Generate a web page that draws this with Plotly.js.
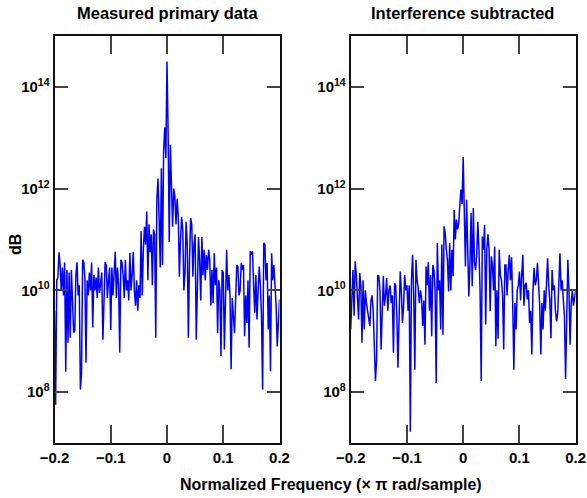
<!DOCTYPE html>
<html>
<head>
<meta charset="utf-8">
<script src="https://cdn.plot.ly/plotly-3.0.1.min.js"></script>
<style>html,body{margin:0;padding:0;background:#fff;}#chart{width:587px;height:498px;}</style>
</head>
<body>
<div id="chart"></div>
<script>
// Frequency grid (× π rad/sample)
const freqStart = -0.2;
const freqStep = 0.002;
const nPoints = 201;

// Power spectrum values as log10 exponents
const measuredPrimaryLog10 = [
  9.6, 7.75, 10.2, 10.25, 10.75, 10.5, 10.0, 10.45, 9.9, 10.55,
  8.4, 10.4, 8.97, 10.35, 9.07, 10.4, 9.8, 9.17, 9.2, 10.3,
  10.55, 9.9, 10.1, 8.05, 8.35, 10.6, 10.55, 10.25, 8.58, 10.2,
  9.9, 10.35, 10.0, 10.55, 9.27, 10.3, 10.0, 10.25, 9.85, 10.45,
  9.95, 10.2, 10.35, 9.03, 9.8, 10.55, 10.5, 9.85, 10.2, 10.45,
  9.22, 10.45, 9.9, 10.45, 10.76, 9.85, 10.45, 10.1, 8.78, 10.6,
  10.55, 10.3, 9.85, 10.6, 10.0, 10.2, 9.8, 10.74, 10.0, 10.3,
  10.76, 10.0, 9.7, 10.2, 9.6, 10.1, 9.85, 11.16, 9.9, 10.8,
  11.25, 10.9, 11.55, 10.2, 11.3, 10.75, 11.1, 10.1, 11.2, 11.1,
  9.07, 11.8, 12.2, 11.4, 10.45, 12.4, 10.5, 12.75, 13.2, 12.6,
  14.5, 13.1, 10.95, 12.86, 12.1, 11.25, 12.0, 11.85, 11.3, 11.8,
  11.45, 10.27, 11.0, 11.44, 11.2, 10.0, 10.35, 11.35, 10.9, 9.07,
  10.6, 11.42, 11.3, 10.27, 10.9, 11.1, 9.03, 10.5, 11.05, 10.6,
  9.8, 11.05, 10.3, 10.8, 10.2, 10.7, 10.4, 10.8, 10.6, 9.7,
  10.4, 9.75, 10.73, 10.1, 10.45, 9.16, 10.2, 10.0, 8.71, 10.4,
  10.35, 8.84, 10.1, 10.8, 10.0, 10.3, 9.9, 8.45, 9.85, 9.5,
  9.16, 9.8, 10.5, 10.47, 9.9, 10.0, 10.54, 10.4, 10.5, 9.1,
  9.9, 9.36, 10.2, 8.87, 10.77, 10.7, 10.77, 10.1, 9.56, 10.3,
  9.43, 10.0, 10.47, 10.1, 9.49, 8.05, 10.93, 10.9, 10.2, 10.54,
  9.23, 9.9, 8.41, 10.73, 10.2, 10.5, 10.08, 9.7, 8.9, 9.56,
  9.82
];

const interferenceSubtractedLog10 = [
  9.23, 10.0, 10.4, 9.5, 10.57, 10.3, 9.88, 9.43, 10.34, 10.1,
  8.97, 10.2, 9.23, 10.0, 9.75, 9.6, 9.45, 9.3, 9.8, 9.9,
  9.6, 9.03, 8.22, 8.64, 10.3, 10.28, 10.0, 8.84, 9.5, 10.28,
  9.7, 9.9, 10.24, 9.6, 10.0, 10.1, 9.75, 9.9, 8.77, 10.14,
  10.1, 9.5, 8.48, 9.6, 10.37, 10.0, 9.36, 9.7, 10.3, 10.0,
  10.1, 9.6, 10.1, 7.22, 10.2, 10.7, 9.9, 8.44, 10.6, 10.2,
  10.05, 9.75, 10.0, 9.85, 9.3, 9.8, 8.93, 10.47, 10.1, 10.55,
  9.6, 10.3, 9.1, 10.5, 10.4, 10.0, 8.18, 10.93, 10.0, 10.2,
  9.23, 10.9, 9.13, 11.26, 11.13, 10.8, 10.6, 9.98, 10.93, 10.0,
  10.8, 10.28, 11.58, 11.0, 11.39, 11.2, 11.3, 11.68, 11.98, 11.7,
  12.62, 11.5, 10.47, 11.78, 10.6, 9.88, 10.5, 11.52, 10.08, 11.62,
  10.55, 10.4, 10.7, 11.35, 10.8, 10.0, 8.22, 11.06, 10.8, 11.29,
  9.33, 10.8, 11.1, 10.8, 9.59, 10.67, 10.5, 10.0, 10.86, 8.9,
  10.0, 9.05, 10.8, 10.3, 10.2, 9.9, 8.84, 10.5, 10.5, 9.9,
  10.4, 10.7, 10.2, 10.65, 9.75, 8.44, 9.75, 9.23, 10.0, 10.1,
  10.37, 9.8, 10.3, 10.7, 9.7, 10.1, 10.15, 9.82, 10.0, 9.36,
  9.6, 8.74, 10.0, 10.44, 10.1, 10.2, 10.54, 10.0, 9.7, 8.74,
  9.75, 9.23, 10.0, 9.6, 10.2, 10.63, 10.1, 9.8, 9.06, 10.4,
  10.0, 10.1, 9.6, 9.39, 9.55, 10.4, 10.73, 10.0, 10.2, 9.8,
  9.49, 8.26, 10.0, 10.6, 10.0, 8.93, 9.75, 10.0, 9.7, 9.82,
  10.01
];

const xTickVals = [-0.2, -0.1, 0, 0.1, 0.2];
const xTickText = ['\u22120.2', '\u22120.1', '0', '0.1', '0.2'];
const yTickExponents = [8, 10, 12, 14];

const panelTitles = ['Measured primary data', 'Interference subtracted'];
const xLabel = 'Normalized Frequency (\u00d7 \u03c0 rad/sample)';
const yLabel = 'dB';

// ---- build ----
const freq = [];
for (let i = 0; i < nPoints; i++) freq.push(+(freqStart + i * freqStep).toFixed(4));
const toLinear = a => a.map(v => Math.pow(10, v));

const W = 587, H = 498;
const px = v => v / W;
const py = v => 1 - v / H;

const FONT = '"Liberation Sans Narrow", "Arial Narrow", "Liberation Sans", Arial, sans-serif';

const lineStyle = {color: '#0000ff', width: 1.5};

const traces = [
  {x: freq, y: toLinear(measuredPrimaryLog10), xaxis: 'x', yaxis: 'y', type: 'scatter', mode: 'lines', line: lineStyle, hoverinfo: 'skip'},
  {x: freq, y: toLinear(interferenceSubtractedLog10), xaxis: 'x2', yaxis: 'y2', type: 'scatter', mode: 'lines', line: lineStyle, hoverinfo: 'skip'}
];

const yTickVals = yTickExponents.map(e => Math.pow(10, e));
const yTickText = yTickExponents.map(e => '<b>10<sup>' + e + '</sup></b>');
const xTickTextB = xTickText.map(t => '<b>' + t + '</b>');

function xAxis(domain, anchor) {
  return {
    domain: domain, anchor: anchor, range: [-0.2, 0.2],
    tickmode: 'array', tickvals: xTickVals, ticktext: xTickTextB,
    ticks: 'inside', ticklen: 18, tickwidth: 2, tickcolor: '#444',
    showline: true, linecolor: '#111', linewidth: 2, mirror: 'ticks',
    showgrid: false, zeroline: false,
    tickfont: {family: FONT, size: 15, color: '#000'}
  };
}
function yAxis(anchor) {
  return {
    domain: [1 - 443 / H, 1 - 36 / H], anchor: anchor, type: 'log', range: [7, 15],
    tickmode: 'array', tickvals: yTickVals, ticktext: yTickText,
    ticks: 'inside', ticklen: 13, tickwidth: 2, tickcolor: '#444',
    showline: true, linecolor: '#111', linewidth: 2, mirror: 'ticks',
    showgrid: false, zeroline: false,
    tickfont: {family: FONT, size: 15, color: '#000'}
  };
}

const layout = {
  width: W, height: H,
  margin: {l: 0, r: 0, t: 0, b: 0},
  paper_bgcolor: '#fff', plot_bgcolor: '#fff',
  showlegend: false,
  xaxis: xAxis([54.5 / W, 279.5 / W], 'y'),
  yaxis: yAxis('x'),
  xaxis2: xAxis([350.7 / W, 575.7 / W], 'y2'),
  yaxis2: yAxis('x2'),
  annotations: [
    {text: '<b>' + panelTitles[0] + '</b>', xref: 'paper', yref: 'paper', x: px(167), y: py(13), xanchor: 'center', yanchor: 'middle', showarrow: false, font: {family: FONT, size: 16.5, color: '#000'}},
    {text: '<b>' + panelTitles[1] + '</b>', xref: 'paper', yref: 'paper', x: px(463), y: py(13), xanchor: 'center', yanchor: 'middle', showarrow: false, font: {family: FONT, size: 16.5, color: '#000'}},
    {text: '<b>' + xLabel + '</b>', xref: 'paper', yref: 'paper', x: px(331), y: py(484), xanchor: 'center', yanchor: 'middle', showarrow: false, font: {family: FONT, size: 16, color: '#000'}},
    {text: '<b>' + yLabel + '</b>', xref: 'paper', yref: 'paper', x: px(15), y: py(245), xanchor: 'center', yanchor: 'middle', textangle: -90, showarrow: false, font: {family: FONT, size: 16, color: '#000'}}
  ]
};

Plotly.newPlot('chart', traces, layout, {staticPlot: true, displayModeBar: false});
</script>
</body>
</html>
